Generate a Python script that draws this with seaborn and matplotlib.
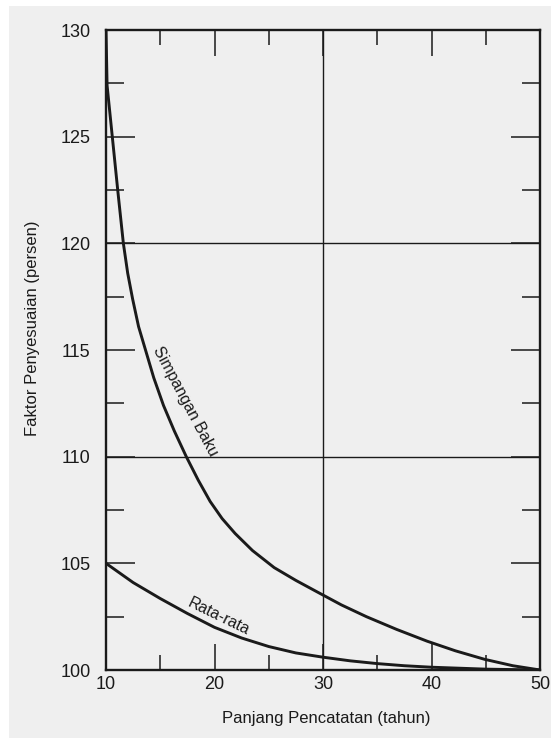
import matplotlib
matplotlib.use("Agg")
import matplotlib.pyplot as plt
import seaborn as sns
import pandas as pd
from matplotlib.patches import Rectangle
from matplotlib.ticker import FixedLocator

# ── Data ────────────────────────────────────────────────────
sb_years = [10, 10.1, 10.6, 11.1, 11.6, 12.0, 12.45, 13.0, 13.7, 14.4, 15.3,
            16.3, 17.4, 18.5, 19.6, 20.7, 21.9, 23.5, 25.5, 27.5, 29.5, 31.7,
            34, 36.8, 39.6, 42.2, 44.9, 47.5, 50]
sb_factor = [130, 127.4, 124.9, 122.4, 120, 118.6, 117.4, 116.1, 114.9, 113.7,
             112.4, 111.2, 110, 108.9, 107.9, 107.1, 106.4, 105.6, 104.8,
             104.2, 103.65, 103.05, 102.5, 101.9, 101.35, 100.9, 100.5,
             100.2, 100]

rr_years = [10, 12.5, 15, 17.5, 20, 22.5, 25, 27.5, 30, 32.5, 35, 37.5, 40,
            45, 50]
rr_factor = [105, 104.1, 103.35, 102.65, 102.0, 101.5, 101.1, 100.8, 100.6,
             100.43, 100.3, 100.2, 100.13, 100.04, 100]

grid_x = [30]
grid_y = [110, 120]

sb_df = pd.DataFrame({'tahun': sb_years, 'faktor': sb_factor})
rr_df = pd.DataFrame({'tahun': rr_years, 'faktor': rr_factor})

# ── Style ───────────────────────────────────────────────────
sns.set_style("white")
plt.rcParams['font.family'] = ['Liberation Sans', 'DejaVu Sans']
BG = '#efefef'
INK = '#1a1a1a'

fig = plt.figure(figsize=(5.51, 7.38), dpi=100, facecolor=BG)
# white scan margin on top / left
fig.patches.append(Rectangle((0, 1 - 6 / 738), 1, 6 / 738, transform=fig.transFigure,
                             facecolor='white', edgecolor='none', zorder=-1))
fig.patches.append(Rectangle((0, 0), 9 / 551, 1, transform=fig.transFigure,
                             facecolor='white', edgecolor='none', zorder=-1))

ax = fig.add_axes([106 / 551, 1 - 670 / 738, 434 / 551, 640 / 738])
ax.set_facecolor(BG)

# ── Curves ──────────────────────────────────────────────────
for df in (sb_df, rr_df):
    sns.lineplot(data=df, x='tahun', y='faktor', color=INK, lw=2.1, ax=ax,
                 sort=False, estimator=None, solid_joinstyle='round',
                 solid_capstyle='round')

for gx in grid_x:
    ax.axvline(gx, color=INK, lw=1.0, zorder=1)
for gy in grid_y:
    ax.axhline(gy, color=INK, lw=1.0, zorder=1)

ax.set_xlim(10, 50)
ax.set_ylim(100, 130)

# ── Ticks ───────────────────────────────────────────────────
ax.xaxis.set_major_locator(FixedLocator([10, 20, 30, 40, 50]))
ax.xaxis.set_minor_locator(FixedLocator([15, 25, 35, 45]))
ax.yaxis.set_major_locator(FixedLocator([100, 105, 110, 115, 120, 125, 130]))
ax.yaxis.set_minor_locator(FixedLocator([102.5, 107.5, 112.5, 117.5, 122.5, 127.5]))

ax.tick_params(axis='both', which='both', direction='in',
               top=True, right=True, bottom=True, left=True,
               color=INK, width=1.1, labelsize=13, labelcolor=INK)
ax.tick_params(axis='x', which='major', length=19, pad=4)
ax.tick_params(axis='x', which='minor', length=11)
ax.tick_params(axis='y', which='major', length=21, pad=11)
ax.tick_params(axis='y', which='minor', length=13)

for sp in ax.spines.values():
    sp.set_visible(True)
    sp.set_color(INK)
    sp.set_linewidth(1.7)

ax.set_xlabel('Panjang Pencatatan (tahun)', fontsize=12, color=INK)
ax.set_ylabel('Faktor Penyesuaian (persen)', fontsize=12, color=INK)
ax.xaxis.set_label_coords(0.507, -0.064)
ax.yaxis.set_label_coords(-0.152, 0.534)

# ── Curve labels ────────────────────────────────────────────
ax.text(17.3, 112.6, 'Simpangan Baku', rotation=-62, fontsize=11.5, color=INK,
        ha='center', va='center', rotation_mode='anchor')
ax.text(20.4, 102.5, 'Rata-rata', rotation=-26, fontsize=11.5, color=INK,
        ha='center', va='center', rotation_mode='anchor')

fig.savefig('out.png', dpi=100, facecolor=BG)
